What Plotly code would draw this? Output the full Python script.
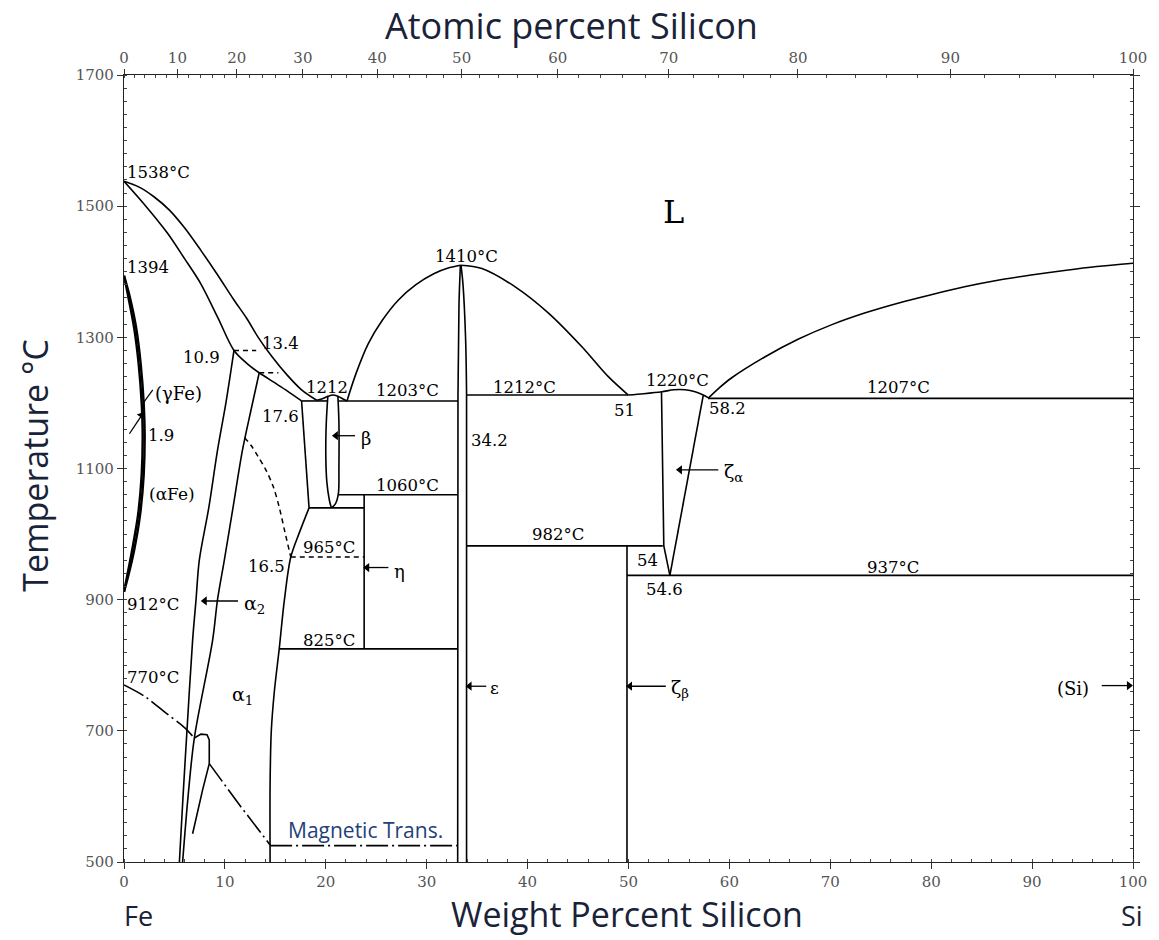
import plotly.graph_objects as go

# ---------------- data (wt% Si, temperature in deg C) ----------------
liq_fe_x = [0, 1.5, 3.0, 4.5, 6.0, 7.6, 9.2, 10.9, 12.2, 13.3, 14.6, 16.2, 17.6, 19.1]
liq_fe_T = [1538, 1529, 1514, 1494, 1467, 1433, 1397, 1357, 1328, 1300, 1272, 1242, 1220, 1204]
sol_fe_x = [0, 2.0, 4.3, 6.0, 7.6, 9.3, 10.9, 12.2, 13.4, 14.8, 16.2, 17.6]
sol_fe_T = [1538, 1503, 1459, 1420, 1382, 1330, 1280, 1260, 1246, 1232, 1218, 1203]

gam_out_x = [0, 0.6, 1.2, 1.65, 1.95, 2.05, 1.95, 1.6, 1.0, 0.4, 0]
gam_out_T = [1394, 1360, 1315, 1260, 1200, 1150, 1090, 1030, 975, 935, 912]
gam_in_x = [0, 0.45, 1.0, 1.45, 1.75, 1.85, 1.75, 1.4, 0.8, 0.3, 0]
gam_in_T = [1394, 1360, 1315, 1260, 1200, 1150, 1090, 1030, 975, 935, 912]

a2_left_x = [10.9, 10.1, 9.27, 8.4, 7.46, 7.14, 6.8, 6.2, 5.85, 5.49]
a2_left_T = [1280, 1200, 1128, 1040, 960, 900, 838, 690, 600, 500]
a2_right_x = [13.4, 12.6, 11.74, 10.8, 9.94, 9.27, 8.78, 6.97, 6.35, 5.81]
a2_right_T = [1246, 1190, 1128, 1040, 960, 900, 838, 689, 600, 500]
loop_x = [6.97, 7.63, 8.23, 8.45, 8.45, 7.79, 6.8]
loop_T = [689, 695, 694, 686, 650, 610, 543]

tie1_x = [10.9, 13.1]
tie1_T = [1280, 1280]
tie2_x = [13.4, 15.3]
tie2_T = [1246, 1246]

order_x = [11.95, 12.6, 13.3, 14.06, 14.8, 15.37, 15.95, 16.53]
order_T = [1147, 1135, 1118, 1098, 1072, 1042, 1003, 965]

a1_x = [18.34, 17.4, 16.53, 15.9, 15.37, 14.9, 14.6, 14.48, 14.48]
a1_T = [1040, 1003, 965, 900, 823, 760, 700, 620, 500]

trap_x = [17.6, 18.34]
trap_T = [1203, 1040]
iso1203a_x = [17.6, 20.2]
iso1203a_T = [1203, 1203]
iso1040_x = [18.34, 23.8]
iso1040_T = [1040, 1040]
beta_l_x = [20.2, 20.05, 20.0, 20.1, 20.35, 20.55]
beta_l_T = [1210, 1170, 1120, 1080, 1052, 1040]
beta_r_x = [21.2, 21.3, 21.3, 21.25, 20.95, 20.55]
beta_r_T = [1210, 1170, 1100, 1062, 1046, 1040]
beta_dome_x = [19.1, 19.6, 20.2, 20.7, 21.2, 21.7, 22.1]
beta_dome_T = [1204, 1206, 1210, 1212, 1210, 1206, 1203]

iso1203b_x = [21.2, 33.1]
iso1203b_T = [1203, 1203]
iso1060_x = [21.2, 33.1]
iso1060_T = [1060, 1060]
iso825_x = [15.37, 33.1]
iso825_T = [825, 825]
iso965_x = [16.53, 23.8]
iso965_T = [965, 965]
eta_x = [23.8, 23.8]
eta_T = [1060, 825]

eps_liq_l_x = [22.1, 23.0, 24.2, 25.6, 27.2, 28.9, 30.7, 32.2, 33.34]
eps_liq_l_T = [1203, 1245, 1290, 1326, 1357, 1380, 1397, 1406, 1410]
eps_liq_r_x = [33.34, 35.47, 38.77, 42.07, 45.36, 48.0, 49.98]
eps_liq_r_T = [1410, 1405, 1377, 1337, 1286, 1240, 1212]
eps_l_x = [33.34, 33.2, 33.1, 33.07]
eps_l_T = [1410, 1350, 1212, 500]
eps_r_x = [33.4, 33.6, 33.85, 33.95, 33.95]
eps_r_T = [1410, 1380, 1300, 1212, 500]

iso1212_x = [33.95, 49.98]
iso1212_T = [1212, 1212]
iso982_x = [33.95, 53.4]
iso982_T = [982, 982]
zeta_dome_x = [49.98, 51.5, 53.3, 54.5, 55.6, 56.6, 57.4, 57.88]
zeta_dome_T = [1212, 1214, 1217, 1220, 1220, 1217, 1212, 1208]
zeta_l_x = [53.27, 53.4, 53.5, 54.1]
zeta_l_T = [1217, 1100, 982, 937]
zeta_r_x = [57.4, 54.1]
zeta_r_T = [1211, 937]
zetab_x = [49.85, 49.85]
zetab_T = [982, 500]
iso937_x = [49.85, 100]
iso937_T = [937, 937]
iso1207_x = [57.88, 100]
iso1207_T = [1207, 1207]
si_liq_x = [57.88, 59.0, 60.2, 63.5, 66.8, 70.1, 73.4, 76.7, 80.0, 83.3, 86.6, 89.9, 93.2, 96.4, 100]
si_liq_T = [1207, 1223, 1238, 1270, 1297, 1319, 1337, 1352, 1365, 1377, 1387, 1395, 1402, 1408, 1413]

mag_l_x = [0, 2.1, 4.17, 6.0, 6.97]
mag_l_T = [770, 752, 727, 705, 689]
mag_r_x = [8.45, 11.4, 14.48]
mag_r_T = [650, 588, 526]
mag_h_x = [14.48, 33.07]
mag_h_T = [525, 525]

gam_lead_x = [1.86, 2.85]
gam_lead_T = [1199, 1220]

at_pct = [0, 10, 20, 30, 40, 50, 60, 70, 80, 90, 100]
M_SI, M_FE = 28.0855, 55.845


def at_to_wt(a):
    return 100.0 * a * M_SI / (a * M_SI + (100 - a) * M_FE)


# ---------------- figure ----------------
fig = go.Figure()
BLK = "black"
W = 1.6


def line(x, y, width=W, dash="solid", smooth=False):
    ln = dict(color=BLK, width=width, dash=dash)
    if smooth:
        ln.update(shape="spline", smoothing=0.9)
    fig.add_trace(go.Scatter(x=x, y=y, mode="lines", line=ln, hoverinfo="skip", showlegend=False))


smooth_curves = [
    (liq_fe_x, liq_fe_T), (sol_fe_x, sol_fe_T),
    (a2_left_x, a2_left_T), (a2_right_x, a2_right_T), (a1_x, a1_T),
    (beta_l_x, beta_l_T), (beta_r_x, beta_r_T), (beta_dome_x, beta_dome_T),
    (eps_liq_l_x, eps_liq_l_T), (eps_liq_r_x, eps_liq_r_T), (eps_l_x, eps_l_T), (eps_r_x, eps_r_T),
    (zeta_dome_x, zeta_dome_T), (si_liq_x, si_liq_T),
]
straight_curves = [
    (loop_x, loop_T), (trap_x, trap_T), (iso1203a_x, iso1203a_T), (iso1040_x, iso1040_T),
    (iso1203b_x, iso1203b_T), (iso1060_x, iso1060_T), (iso825_x, iso825_T), (eta_x, eta_T),
    (iso1212_x, iso1212_T), (iso982_x, iso982_T),
    (zeta_l_x, zeta_l_T), (zeta_r_x, zeta_r_T), (zetab_x, zetab_T),
    (iso937_x, iso937_T), (iso1207_x, iso1207_T),
]
for cx, cy in smooth_curves:
    line(cx, cy, smooth=True)
for cx, cy in straight_curves:
    line(cx, cy)
line(gam_out_x, gam_out_T, width=2.4, smooth=True)
line(gam_in_x, gam_in_T, width=2.4, smooth=True)
line(gam_lead_x, gam_lead_T, width=1.2)
line(order_x, order_T, width=1.5, dash="5px,4px", smooth=True)
for cx, cy in [(tie1_x, tie1_T), (tie2_x, tie2_T), (iso965_x, iso965_T)]:
    line(cx, cy, width=1.5, dash="5px,4px")
line(mag_l_x, mag_l_T, width=1.6, dash="22px,4px,2px,4px", smooth=True)
for cx, cy in [(mag_r_x, mag_r_T), (mag_h_x, mag_h_T)]:
    line(cx, cy, width=1.6, dash="22px,4px,2px,4px")


# arrows: shaft + head marker
def arrow(xh, yh, xt, yt, symbol="triangle-left", angle=0):
    fig.add_trace(go.Scatter(x=[xt, xh], y=[yt, yh], mode="lines", line=dict(color=BLK, width=1.3),
                             hoverinfo="skip", showlegend=False))
    fig.add_trace(go.Scatter(x=[xh], y=[yh], mode="markers",
                             marker=dict(symbol=symbol, size=8, color=BLK, angle=angle),
                             hoverinfo="skip", showlegend=False))


arrow(1.75, 1181, 0.54, 1153, symbol="triangle-up", angle=34)
arrow(8.0, 898, 11.3, 898)
arrow(21.0, 1150, 22.9, 1150)
arrow(24.1, 949, 26.2, 949)
arrow(55.1, 1098, 58.9, 1098)
arrow(34.25, 768, 35.9, 768)
arrow(50.15, 768, 53.7, 768)
arrow(99.6, 769, 96.9, 769, symbol="triangle-right")

# invisible trace for the top (atomic percent) axis
fig.add_trace(go.Scatter(x=[0, 100], y=[500, 500], xaxis="x2", mode="markers",
                         marker=dict(opacity=0), hoverinfo="skip", showlegend=False))

SERIF = "DejaVu Serif"
anns = []


def label(x, y, text, xanchor="center", size=16.5):
    anns.append(dict(x=x, y=y, xref="x", yref="y", text=text, showarrow=False,
                     xanchor=xanchor, yanchor="middle", font=dict(family=SERIF, size=size, color=BLK)))


label(0.05, 1552, "1538°C", "left")
label(0.05, 1406, "1394", "left")
label(2.9, 1215, "(γFe)", "left", 18)
label(2.2, 1151, "1.9", "left")
label(2.3, 1061, "(αFe)", "left", 17)
label(0.05, 892, "912°C", "left")
label(0.05, 781, "770°C", "left")
label(11.7, 893, "α<sub>2</sub>", "left", 19)
label(11.7, 754, "α<sub>1</sub>", "center", 19)
label(9.7, 1270, "10.9", "right")
label(15.5, 1291, "13.4")
label(20.15, 1223, "1212")
label(15.5, 1180, "17.6")
label(28.1, 1219, "1203°C")
label(28.1, 1074, "1060°C")
label(23.3, 1146, "β", "left", 18)
label(20.3, 979, "965°C")
label(14.1, 950, "16.5")
label(26.6, 943, "η", "left", 18)
label(20.3, 838, "825°C")
label(33.96, 1424, "1410°C")
label(36.2, 1143, "34.2")
label(39.7, 1223, "1212°C")
label(49.65, 1189, "51")
label(54.9, 1234, "1220°C")
label(59.8, 1191, "58.2")
label(76.8, 1223, "1207°C")
label(59.3, 1094, "ζ<sub>α</sub>", "left", 19)
label(43.05, 999, "982°C")
label(51.9, 960, "54")
label(53.6, 916, "54.6")
label(76.2, 949, "937°C")
label(36.1, 766, "ε", "left", 17)
label(54.0, 764, "ζ<sub>β</sub>", "left", 19)
label(94.05, 764, "(Si)", "center", 18)
label(54.5, 1491, "L", "center", 32)

SANS = "Open Sans"
TXT = "#1a2238"
anns.append(dict(x=23.97, y=549, xref="x", yref="y", text="Magnetic Trans.", showarrow=False,
                 font=dict(family=SANS, size=21, color="#1f3f7a")))
for px, py, t, sz, rot in [
    (0.444, 1.0629, "Atomic percent Silicon", 36, 0),
    (0.4985, -0.0661, "Weight Percent Silicon", 34, 0),
    (0.0143, -0.0686, "Fe", 27, 0),
    (0.999, -0.0686, "Si", 27, 0),
    (-0.0885, 0.5044, "Temperature °C", 34, -90),
]:
    anns.append(dict(x=px, y=py, xref="paper", yref="paper", text=t, showarrow=False, textangle=rot,
                     xanchor="center", yanchor="middle", font=dict(family=SANS, size=sz, color=TXT)))

tick_font = dict(family=SERIF, size=15, color="#555")
fig.update_layout(
    width=1159, height=940,
    margin=dict(l=124, r=23, t=75, b=78),
    paper_bgcolor="white", plot_bgcolor="white",
    showlegend=False,
    annotations=anns,
    xaxis=dict(range=[0, 100], tickmode="array", tickvals=list(range(0, 101, 10)),
               ticks="outside", ticklen=6, tickwidth=1, tickcolor="#333",
               showline=True, linecolor="#222", linewidth=1.3, mirror=False,
               showgrid=False, zeroline=False, tickfont=tick_font,
               minor=dict(tickmode="array", tickvals=list(range(0, 101, 2)), ticks="inside",
                          ticklen=3, tickcolor="#444", showgrid=False)),
    xaxis2=dict(range=[0, 100], overlaying="x", side="top", anchor="y", tickmode="array",
                tickvals=[at_to_wt(a) for a in at_pct], ticktext=[str(a) for a in at_pct],
                ticks="outside", ticklen=5, tickwidth=1, tickcolor="#333",
                showline=True, linecolor="#222", linewidth=1.3,
                showgrid=False, zeroline=False, tickfont=tick_font,
                minor=dict(tickmode="array", tickvals=[at_to_wt(a) for a in range(0, 101, 2)],
                           ticks="inside", ticklen=3, tickcolor="#444", showgrid=False)),
    yaxis=dict(range=[500, 1700], tickmode="array", tickvals=list(range(500, 1701, 200)),
               ticks="outside", ticklen=6, tickwidth=1, tickcolor="#333",
               showline=True, linecolor="#222", linewidth=1.3, mirror="ticks",
               showgrid=False, zeroline=False, tickfont=tick_font,
               minor=dict(tickmode="array", tickvals=list(range(500, 1701, 20)), ticks="inside",
                          ticklen=3, tickcolor="#444", showgrid=False)),
)

fig.write_html("out.html")
